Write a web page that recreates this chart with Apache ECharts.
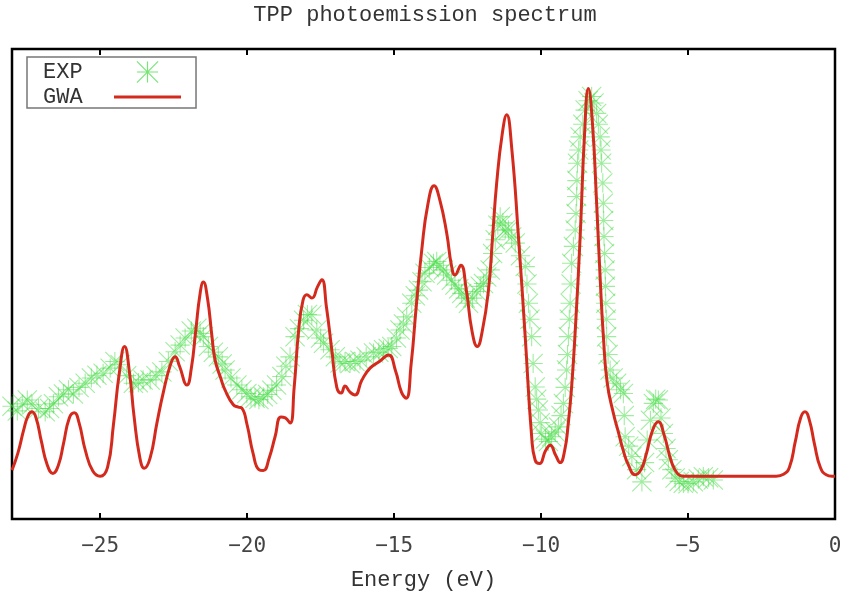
<!DOCTYPE html>
<html>
<head>
<meta charset="utf-8">
<script src="https://cdn.jsdelivr.net/npm/echarts@6/dist/echarts.min.js"></script>
<style>
  html, body { margin: 0; padding: 0; background: #fff; }
  #chart { width: 850px; height: 600px; }
</style>
</head>
<body>
<div id="chart"></div>
<script>
// GWA spectrum (arbitrary intensity 0-100)
var gwaEnergy = [-28.0, -27.8, -27.6, -27.45, -27.32, -27.18, -27.0, -26.8, -26.61, -26.42, -26.25, -26.05, -25.88,
  -25.72, -25.5, -25.25, -25.0, -24.75, -24.55, -24.35, -24.17, -24.0, -23.85, -23.65, -23.5, -23.3, -23.07,
  -22.85, -22.6, -22.45, -22.3, -22.05, -21.9, -21.75, -21.6, -21.49, -21.35, -21.2, -21.09, -20.9, -20.75,
  -20.47, -20.3, -20.18, -20.0, -19.8, -19.6, -19.45, -19.25, -19.05, -18.85, -18.7, -18.54, -18.4, -18.25,
  -18.1, -17.97, -17.8, -17.6, -17.46, -17.3, -17.12, -16.95, -16.8, -16.67, -16.5, -16.33, -16.1, -15.82,
  -15.5, -15.19, -14.95, -14.75, -14.59, -14.42, -14.25, -14.06, -13.85, -13.64, -13.45, -13.21, -13.05, -12.93,
  -12.73, -12.55, -12.35, -12.17, -12.0, -11.79, -11.65, -11.51, -11.32, -11.17, -11.0, -10.77, -10.54, -10.32,
  -10.2, -10.05, -9.85, -9.69, -9.5, -9.35, -9.2, -9.08, -8.96, -8.82, -8.67, -8.52, -8.39, -8.25, -8.11,
  -7.98, -7.88, -7.75, -7.54, -7.37, -7.2, -7.03, -6.8, -6.6, -6.43, -6.2, -6.01, -5.82, -5.55, -5.35, -5.16,
  -4.0, -3.0, -2.0, -1.75, -1.55, -1.35, -1.17, -1.02, -0.87, -0.7, -0.5, -0.3, -0.1, 0];
var gwaIntensity = [10.4, 14, 19, 22, 22.8, 21.5, 16.5, 11.5, 9.7, 11.5, 16, 21.5, 22.6,
  20.5, 14.5, 10.2, 9.1, 11, 20, 31, 36.7, 31, 22, 13, 10.8, 13, 20.4,
  27, 33, 34.5, 32.5, 28.5, 32, 40, 48, 50.4, 47, 39, 33.8, 30, 27.4,
  24.3, 23.8, 23.6, 20, 14, 10.5, 10.3, 13, 17.5, 21.7, 21.5, 20.4, 28, 40,
  46.5, 47.7, 47.0, 49.5, 50.9, 45, 36.0, 28, 26.8, 28.3, 27, 26.4, 29.5, 32.1,
  33.5, 34.9, 31.5, 27, 25.7, 33, 45, 57.2, 67, 70.9, 68, 60.8, 54, 51.9,
  54.0, 49, 40, 36.7, 40, 48.7, 60, 71.5, 82, 86.0, 79, 60.1, 38.8, 17.5,
  12.5, 11.8, 14.5, 15.7, 13.5, 12.0, 14.5, 20, 28.1, 42, 60.1, 82, 91.6, 84, 67.2,
  50, 38.8, 29.0, 22.5, 18.5, 14.5, 11.5, 9.4, 10.5, 13.6, 19, 20.7, 18, 11.9, 9.6, 9.1,
  9.1, 9.1, 9.1, 9.5, 11, 16.5, 21.5, 22.8, 21, 16, 11, 9.4, 9.1, 9.1];

// experimental points
var expEnergy = [-28.0, -27.82, -27.65, -27.48, -27.32, -27.1, -26.87, -26.72, -26.59, -26.42, -26.25, -26.08,
  -25.91, -25.72, -25.51, -25.3, -25.11, -24.9, -24.66, -24.5, -24.32, -24.1, -23.87, -23.7, -23.54, -23.3,
  -23.1, -22.9, -22.68, -22.45, -22.28, -22.11, -21.9, -21.71, -21.6, -21.49, -21.32, -21.15, -20.98, -20.85,
  -20.75, -20.55, -20.35, -20.18, -20.01, -19.87, -19.73, -19.6, -19.45, -19.3, -19.16, -19.0, -18.82, -18.68,
  -18.54, -18.37, -18.22, -18.08, -17.95, -17.8, -17.63, -17.5, -17.4, -17.18, -17.0, -16.84, -16.67, -16.5,
  -16.33, -16.16, -15.95, -15.7, -15.52, -15.36, -15.2, -15.08, -14.92, -14.8, -14.68, -14.57, -14.4, -14.28,
  -14.17, -14.05, -13.95, -13.8, -13.66, -13.55, -13.44, -13.32, -13.21, -13.05, -12.93, -12.8, -12.7, -12.58,
  -12.47, -12.33, -12.19, -12.07, -11.96, -11.85, -11.73, -11.65, -11.56, -11.47, -11.39, -11.3, -11.22, -11.11,
  -11.0, -10.88, -10.7, -10.54, -10.48, -10.43, -10.38, -10.32, -10.27, -10.2, -10.15, -10.09, -10.03, -9.98,
  -9.85, -9.75, -9.64, -9.52, -9.41, -9.32, -9.24, -9.18, -9.13, -9.1, -9.07, -9.04, -9.01, -8.98, -8.96,
  -8.9, -8.84, -8.81, -8.79, -8.78, -8.76, -8.72, -8.67, -8.58, -8.5, -8.4, -8.28, -8.2, -8.11, -8.05, -7.99,
  -7.96, -7.94, -7.9, -7.88, -7.87, -7.86, -7.84, -7.82, -7.81, -7.8, -7.78, -7.77, -7.72, -7.65, -7.55,
  -7.43, -7.3, -7.2, -7.17, -7.14, -7.02, -6.91, -6.75, -6.57, -6.48, -6.39, -6.28, -6.18, -6.1, -6.01, -5.92,
  -5.84, -5.75, -5.67, -5.55, -5.44, -5.3, -5.16, -5.0, -4.82, -4.65, -4.48, -4.3, -4.14];
var expIntensity = [24.0, 23.0, 24.5, 25.3, 24.3, 23.5, 22.8, 23.5, 24.5, 26.0, 26.6, 27.5,
  26.6, 28.0, 28.9, 30.0, 30.6, 31.0, 32.1, 33.5, 32.8, 30.5, 28.9, 29.0, 29.6, 29.6,
  30.5, 31.3, 33.5, 35.6, 37.0, 38.5, 40.0, 40.6, 39.5, 38.8, 36.7, 35.5, 34.5, 33.0,
  31.7, 30.0, 28.5, 27.5, 26.7, 26.0, 25.7, 25.4, 26.0, 26.5, 27.4, 28.5, 30.3, 32.5,
  34.5, 38.8, 40.5, 42.3, 43.5, 43.4, 40.2, 38.5, 37.4, 36.0, 34.5, 33.2, 33.5, 33.1,
  33.5, 33.8, 34.5, 35.3, 35.5, 36.0, 36.3, 36.7, 38.5, 40.2, 41.5, 43.0, 45.9, 47.5,
  48.7, 50.5, 52.3, 53.5, 54.4, 54.8, 54.0, 53.0, 51.9, 50.8, 49.8, 49.0, 48.0, 47.0,
  45.9, 47.0, 48.4, 49.5, 50.1, 51.5, 53.0, 56.5, 59.4, 62.5, 64.3, 63.0, 61.5, 61.5,
  60.0, 58.7, 56.0, 53.7, 50.0, 45.9, 42.5, 38.8, 33.1, 28.1, 25.5, 23.2, 20.5, 18.2,
  17.0, 16.5, 17.5, 18.5, 19.6, 22.0, 24.6, 28.0, 31.7, 35.0, 38.8, 42.5, 45.9, 50.0, 54.4,
  58.0, 61.5, 65.0, 68.6, 72.0, 75.7, 78.5, 81.3, 84.0, 87.0, 89.0, 89.9, 88.5, 86.3, 84.0, 81.3,
  78.5, 75.7, 71.5, 67.2, 63.5, 60.1, 56.5, 53.0, 49.5, 45.9, 42.5, 38.8, 35.0, 31.7, 30.0,
  28.9, 27.5, 26.7, 22.0, 17.5, 15.5, 13.3, 10.5, 7.9, 12.0, 16.8, 21.0, 24.6, 25.5, 25.3, 21.5,
  18.2, 15.0, 12.6, 10.5, 8.7, 8.0, 7.6, 7.5, 7.9, 8.5, 9.0, 8.8, 8.3];

var tickValues = [-25, -20, -15, -10, -5, 0];

var gwaData = [];
for (var i = 0; i < gwaEnergy.length; i++) {
  gwaData.push([gwaEnergy[i], gwaIntensity[i]]);
}
var expData = [];
for (var j = 0; j < expEnergy.length; j++) {
  expData.push([expEnergy[j], expIntensity[j]]);
}

// gnuplot style "*" point
var star = 'path://M0 9.45H20V10.55H0Z M9.45 0H10.55V20H9.45Z M0.39 -0.39L20.39 19.61L19.61 20.39L-0.39 0.39Z M19.61 -0.39L20.39 0.39L0.39 20.39L-0.39 19.61Z';
var lineIcon = 'path://M0 0H67V3H0Z';
var mono = '"Liberation Mono", "Courier New", monospace';

var chart = echarts.init(document.getElementById('chart'), null, { renderer: 'canvas' });
var option = {
  backgroundColor: '#fff',
  animation: false,
  title: {
    text: 'TPP photoemission spectrum',
    left: 'center',
    top: 0,
    padding: [4, 0, 0, 0],
    textStyle: { fontFamily: mono, fontSize: 22, fontWeight: 'normal', color: '#333' }
  },
  legend: {
    left: 27,
    top: 57,
    orient: 'vertical',
    align: 'right',
    padding: [4, 15, 0, 16],
    itemGap: 3,
    itemWidth: 67,
    itemHeight: 22,
    symbolKeepAspect: true,
    borderColor: '#777',
    borderWidth: 1.5,
    borderRadius: 0,
    formatter: function (name) { return name + '  '; },
    textStyle: { fontFamily: mono, fontSize: 22, color: '#333' },
    data: [
      { name: 'EXP', icon: star, itemStyle: { color: '#3ddc3d', opacity: 0.7 } },
      { name: 'GWA', icon: lineIcon, itemStyle: { color: '#d42a1e' } }
    ]
  },
  grid: {
    left: 12,
    right: 15,
    top: 49,
    bottom: 81,
    show: true,
    borderColor: '#000',
    borderWidth: 2.5,
    backgroundColor: 'transparent'
  },
  xAxis: [{
    type: 'value',
    min: -28,
    max: 0,
    name: 'Energy (eV)',
    nameLocation: 'middle',
    nameGap: 50,
    nameTextStyle: { fontFamily: mono, fontSize: 22, color: '#333' },
    axisLine: { show: false },
    splitLine: { show: false },
    axisTick: {
      inside: true,
      length: 6,
      lineStyle: { color: '#000', width: 2 },
      customValues: [-25, -20, -15, -10, -5]
    },
    axisLabel: {
      margin: 17,
      fontFamily: '"DejaVu Sans Mono", monospace',
      fontSize: 21,
      color: '#444',
      customValues: tickValues,
      formatter: function (v) { return String(v).replace('-', '\u2212'); }
    }
  }, {
    type: 'value',
    position: 'top',
    min: -28,
    max: 0,
    axisLine: { show: false },
    splitLine: { show: false },
    axisLabel: { show: false },
    axisTick: {
      inside: true,
      length: 6,
      lineStyle: { color: '#000', width: 2 },
      customValues: [-25, -20, -15, -10, -5]
    }
  }],
  yAxis: {
    type: 'value',
    min: 0,
    max: 100,
    axisLine: { show: false },
    axisTick: { show: false },
    axisLabel: { show: false },
    splitLine: { show: false }
  },
  series: [{
    name: 'EXP',
    type: 'scatter',
    symbol: star,
    symbolSize: 20,
    clip: false,
    itemStyle: { color: '#3ddc3d', opacity: 0.5 },
    data: expData
  }, {
    name: 'GWA',
    type: 'line',
    showSymbol: false,
    symbol: 'none',
    smooth: 0.5,
    lineStyle: { color: '#d42a1e', width: 3 },
    itemStyle: { color: '#d42a1e' },
    data: gwaData
  }]
};
chart.setOption(option);
</script>
</body>
</html>
